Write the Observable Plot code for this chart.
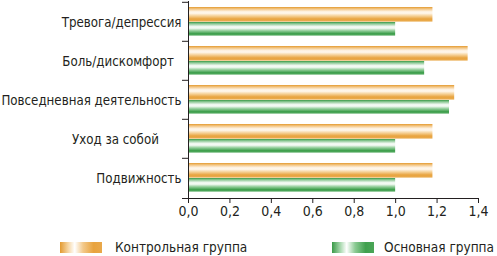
<!DOCTYPE html>
<html>
<head>
<meta charset="utf-8">
<script src="https://cdn.jsdelivr.net/npm/d3@7"></script>
<script src="https://cdn.jsdelivr.net/npm/@observablehq/plot@0.6"></script>
<style>
  html, body { margin: 0; padding: 0; background: #fff; }
  #wrap { position: relative; width: 497px; height: 256px; font-family: 'DejaVu Sans Condensed', sans-serif; color: #231f20; }
  #chart svg { display: block; }
  .sw { position: absolute; top: 242px; width: 42px; height: 11px; }
  .lt { position: absolute; top: 238px; font-size: 13.5px; line-height: 18px; white-space: nowrap; }
</style>
</head>
<body>
<div id="wrap">
  <div id="chart"></div>
  <div class="sw" style="left:60px;background:linear-gradient(to right,#e39a30 0%,#f6d7a6 20%,#fff 35%,#f3c98a 55%,#e8a33e 80%,#e9a84a 100%);"></div>
  <div class="lt" style="left:115px;">Контрольная группа</div>
  <div class="sw" style="left:332px;background:linear-gradient(to right,#3a9a48 0%,#a8d8ae 20%,#fff 35%,#8ccb94 55%,#40a04e 80%,#4aa557 100%);"></div>
  <div class="lt" style="right:3px;">Основная группа</div>
</div>
<script>
const categories = ["Тревога/депрессия", "Боль/дискомфорт", "Повседневная деятельность", "Уход за собой", "Подвижность"];
const controlGroup = [1.18, 1.35, 1.285, 1.18, 1.18];
const mainGroup = [1.0, 1.14, 1.26, 1.0, 1.0];
const xTicks = [0, 0.2, 0.4, 0.6, 0.8, 1.0, 1.2, 1.4];

// trailing spacing of the labels as drawn in the original
const labelTrail = {"Боль/дискомфорт": 2, "Уход за собой": 6};

const data = categories.map((c, i) => ({cat: c, control: controlGroup[i], main: mainGroup[i]}));
const H = 228, MT = 1, MB = 30;
const step = (H - MT - MB) / categories.length;

const plot = Plot.plot({
  width: 497,
  height: H,
  marginLeft: 188,
  marginRight: 19,
  marginTop: MT,
  marginBottom: MB,
  style: {fontFamily: "'DejaVu Sans Condensed', sans-serif", fontSize: "14.5px", color: "#231f20", background: "#fff"},
  x: {domain: [0, 1.4]},
  y: {domain: categories, padding: 0},
  marks: [
    Plot.barX(data, {y: "cat", x: "control", fill: "url(#gO)", insetTop: 5, insetBottom: step - 20}),
    Plot.barX(data, {y: "cat", x: "main", fill: "url(#gG)", insetTop: 20, insetBottom: step - 34}),
    Plot.axisX({ticks: xTicks, tickSize: 5, tickPadding: 3, tickFormat: d => d.toFixed(1).replace(".", ","), label: null, stroke: "#231f20", fontSize: 14}),
    Plot.axisY({tickSize: 0, tickPadding: 7, label: null, tickFormat: d => d + "\u00a0".repeat(labelTrail[d] || 0)}),
    Plot.axisY({tickSize: 6, tickFormat: () => "", label: null, dy: -step / 2, stroke: "#231f20"}),
    Plot.frame({anchor: "left", stroke: "#231f20"}),
    Plot.frame({anchor: "bottom", stroke: "#231f20", insetLeft: -6})
  ]
});

const svg = d3.select(plot);
const defs = svg.insert("defs", ":first-child");
function grad(id, stops) {
  const g = defs.append("linearGradient").attr("id", id).attr("x1", 0).attr("y1", 0).attr("x2", 0).attr("y2", 1);
  stops.forEach(([o, c]) => g.append("stop").attr("offset", o).attr("stop-color", c));
}
grad("gO", [[0, "#e39a30"], [0.12, "#f2c27c"], [0.3, "#fdf0de"], [0.42, "#fff8ee"], [0.62, "#f5cf93"], [0.82, "#e8a33e"], [1, "#eaac50"]]);
grad("gG", [[0, "#389846"], [0.12, "#86c58f"], [0.32, "#eef7ef"], [0.45, "#f6fbf6"], [0.65, "#8fcc97"], [0.85, "#3f9f4d"], [1, "#55ab61"]]);

// narrow the category labels horizontally (condensed look of the original)
svg.selectAll('g[aria-label="y-axis tick label"] text').each(function () {
  const x = +this.getAttribute("x") || 0;
  const t = this.getAttribute("transform") || "";
  this.setAttribute("transform", `${t} translate(${x},0) scale(0.91,1) translate(${-x},0)`);
});

document.getElementById("chart").appendChild(plot);
</script>
</body>
</html>
